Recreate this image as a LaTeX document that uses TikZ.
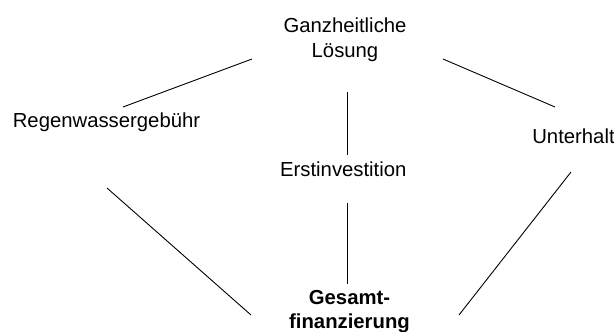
\documentclass[tikz,border=0pt]{standalone}
\usepackage{fontspec}
\setmainfont{Liberation Sans}
\begin{document}
\begin{tikzpicture}[x=1pt,y=-1pt,
  term/.style={inner sep=0pt, anchor=base, align=center,
    font=\fontsize{20.3}{25}\selectfont},
  goal/.style={term, font=\fontsize{20.3}{23.5}\selectfont\bfseries},
  link/.style={line width=0.9pt, draw=black}]
\useasboundingbox (0,0) rectangle (614,332);

% terms
\node[term] (ganz) at (345,57) {Ganzheitliche\\Lösung};
\node[term] (regen) at (106.5,127) {Regenwassergebühr};
\node[term] (unter) at (573.5,143) {Unterhalt};
\node[term] (erst) at (343.3,176) {Erstinvestition};
\node[goal] (gesamt) at (349.5,328) {Gesamt-\\finanzierung};

% connector end points
\coordinate (ganz-l) at (252,59);
\coordinate (ganz-r) at (443,59);
\coordinate (ganz-b) at (347,92);
\coordinate (regen-t) at (123,107);
\coordinate (regen-b) at (107,188);
\coordinate (unter-t) at (555,107);
\coordinate (unter-b) at (571,172);
\coordinate (erst-t) at (347,155);
\coordinate (erst-b) at (347,203);
\coordinate (gesamt-t) at (347,284);
\coordinate (gesamt-l) at (251,315);
\coordinate (gesamt-r) at (459,315);

% connectors
\draw[link] (ganz-l) -- (regen-t);
\draw[link] (ganz-r) -- (unter-t);
\draw[link] (ganz-b) -- (erst-t);
\draw[link] (erst-b) -- (gesamt-t);
\draw[link] (regen-b) -- (gesamt-l);
\draw[link] (unter-b) -- (gesamt-r);
\end{tikzpicture}
\end{document}
